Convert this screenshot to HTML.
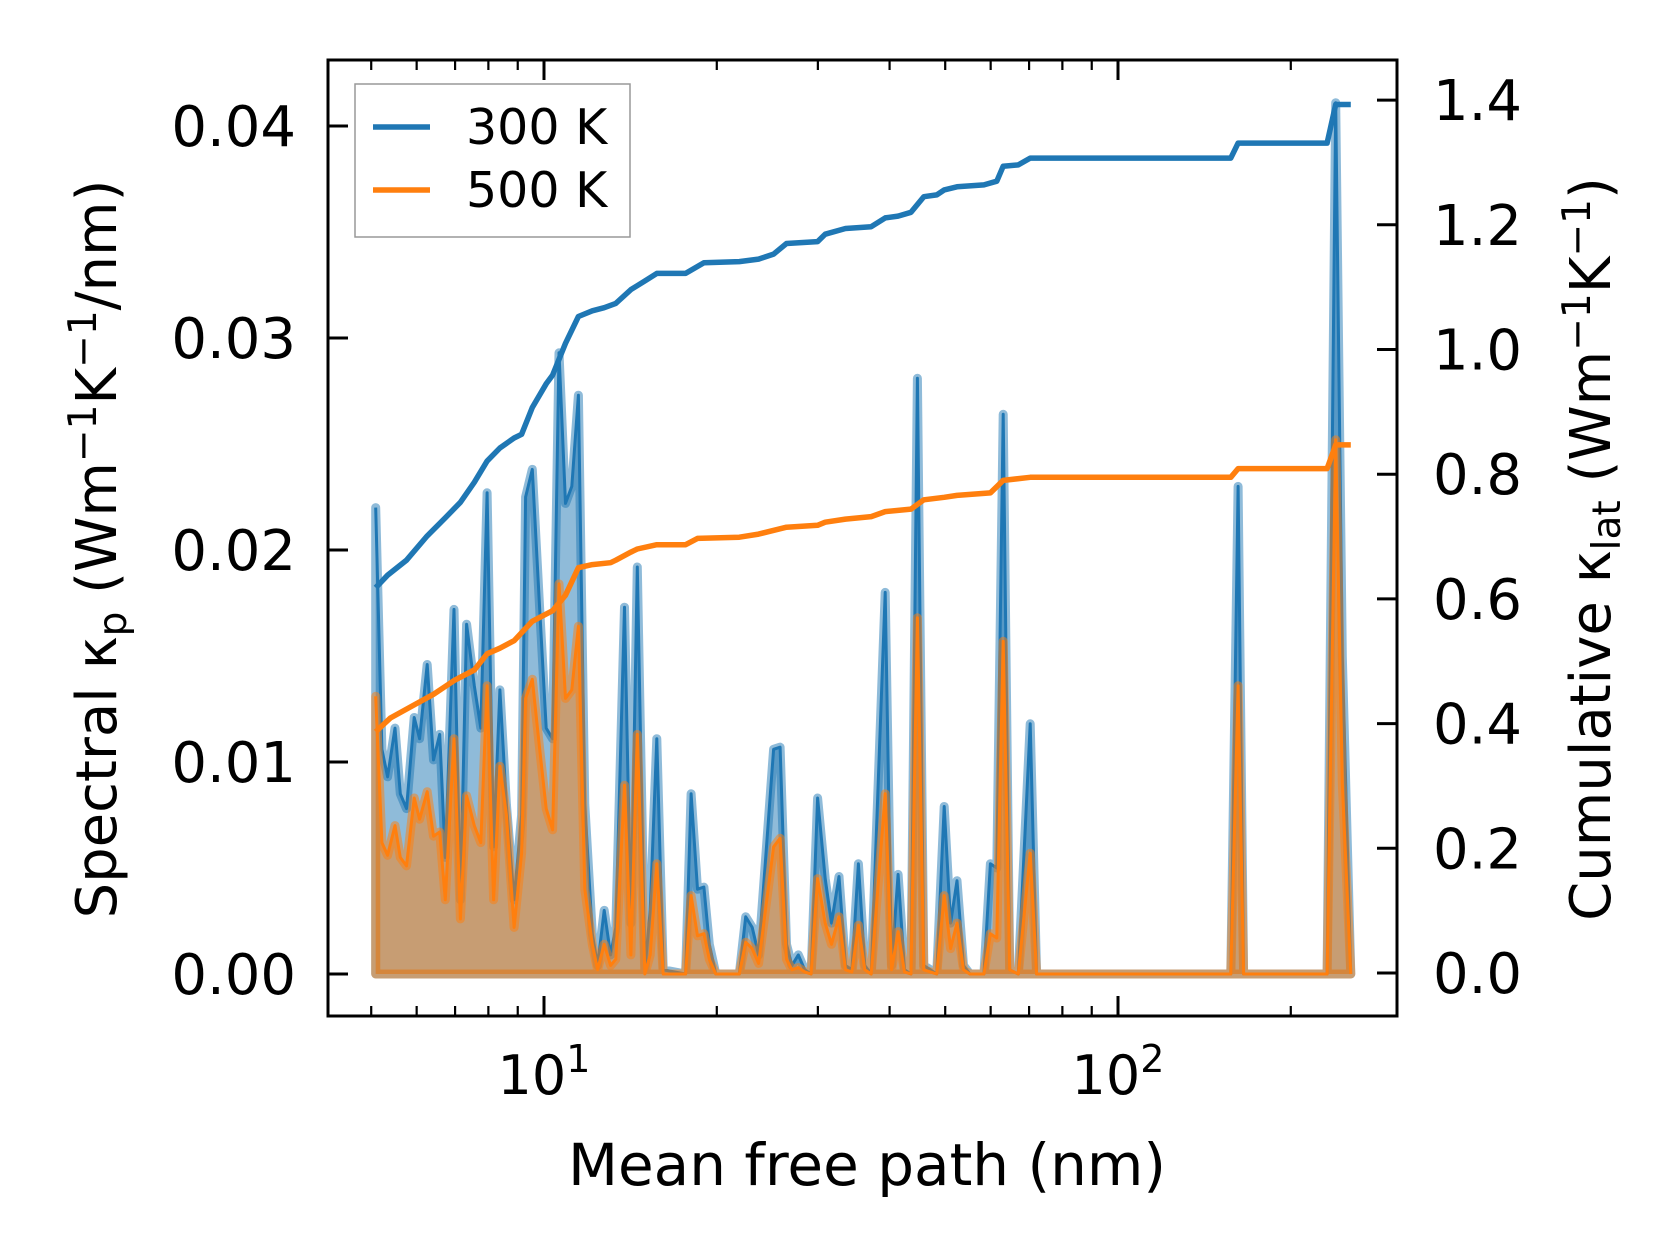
<!DOCTYPE html>
<html><head><meta charset="utf-8"><style>
html,body{margin:0;padding:0;background:#fff}
svg{display:block;font-family:"DejaVu Sans","Liberation Sans",sans-serif}
</style></head><body>
<svg id="chart" width="1679" height="1254" viewBox="0 0 1679 1254" xmlns="http://www.w3.org/2000/svg">
<g id="plot"></g>
<g id="axes"></g>
<text x="867" y="1185" font-size="58" text-anchor="middle">Mean free path (nm)</text>
<text transform="translate(116,549) rotate(-90)" font-size="56" text-anchor="middle">Spectral κ<tspan font-size="39" dy="10">p</tspan><tspan dy="-10"> (Wm</tspan><tspan font-size="39" dy="-20">−1</tspan><tspan dy="20">K</tspan><tspan font-size="39" dy="-20">−1</tspan><tspan dy="20">/nm)</tspan></text>
<text transform="translate(1610,549) rotate(-90)" font-size="56" text-anchor="middle">Cumulative κ<tspan font-size="39" dy="10">lat</tspan><tspan dy="-10"> (Wm</tspan><tspan font-size="39" dy="-20">−1</tspan><tspan dy="20">K</tspan><tspan font-size="39" dy="-20">−1</tspan><tspan dy="20">)</tspan></text>
<g>
<rect x="355" y="84" width="275" height="153" fill="#fff" fill-opacity="0.8" stroke="#999" stroke-width="1.5"/>
<line x1="373" y1="127" x2="430" y2="127" stroke="#1f77b4" stroke-width="5.5"/>
<text x="466" y="144" font-size="49">300 K</text>
<line x1="373" y1="190" x2="430" y2="190" stroke="#ff7f0e" stroke-width="5.5"/>
<text x="466" y="207" font-size="49">500 K</text>
</g>
</svg>
<script>
const mfp = [5.09,5.22,5.34,5.50,5.62,5.76,5.94,6.07,6.26,6.42,6.58,6.73,6.97,7.15,7.33,7.56,7.76,7.96,8.17,8.38,8.60,8.87,9.14,9.29,9.54,9.83,10.09,10.35,10.62,10.90,11.18,11.48,11.78,12.14,12.40,12.73,13.06,13.34,13.81,14.17,14.54,14.99,15.31,15.72,16.13,17.65,18.04,18.51,18.99,19.41,19.92,21.89,22.46,23.05,23.65,25.12,25.78,26.45,27.03,27.73,28.46,29.20,29.97,30.89,31.69,32.66,33.51,34.39,35.29,36.22,37.16,39.30,40.33,41.39,42.46,43.58,44.72,45.89,47.09,48.32,49.79,51.09,52.43,53.80,55.21,58.39,59.93,61.49,63.10,64.75,67.04,70.30,72.14,157.2,161.9,165.5,231.4,239.5,245.9,254.4];
const spec300 = [0.0220,0.0106,0.0093,0.0116,0.0085,0.0078,0.0121,0.0111,0.0146,0.0101,0.0113,0.0055,0.0172,0.0035,0.0165,0.0136,0.0116,0.0227,0.0060,0.0134,0.0080,0.0035,0.0075,0.0225,0.0238,0.0172,0.0116,0.0111,0.0293,0.0222,0.0230,0.0273,0.0080,0.0019,0.0004,0.0030,0.0009,0.0022,0.0173,0.0024,0.0192,0.0002,0.0030,0.0111,0.0002,0.0,0.0085,0.0040,0.0041,0.0014,0.0,0.0,0.0027,0.0022,0.0009,0.0106,0.0107,0.0014,0.0004,0.0009,0.0002,0.0,0.0083,0.0045,0.0024,0.0046,0.0004,0.0002,0.0052,0.0004,0.0,0.0180,0.0004,0.0047,0.0002,0.0,0.0281,0.0004,0.0002,0.0,0.0079,0.0024,0.0044,0.0004,0.0,0.0,0.0052,0.0050,0.0264,0.0002,0.0,0.0118,0.0,0.0,0.0230,0.0,0.0,0.0411,0.0150,0.0];
const spec500 = [0.0131,0.0062,0.0056,0.0070,0.0055,0.0051,0.0083,0.0073,0.0086,0.0065,0.0067,0.0035,0.0111,0.0026,0.0084,0.0070,0.0062,0.0136,0.0035,0.0098,0.0075,0.0022,0.0057,0.0130,0.0139,0.0106,0.0078,0.0068,0.0184,0.0130,0.0134,0.0164,0.0040,0.0014,0.0002,0.0014,0.0004,0.0007,0.0089,0.0009,0.0113,0.0,0.0009,0.0052,0.0,0.0,0.0037,0.0018,0.0019,0.0007,0.0,0.0,0.0015,0.0012,0.0005,0.0060,0.0064,0.0007,0.0002,0.0003,0.0001,0.0,0.0045,0.0024,0.0014,0.0027,0.0002,0.0001,0.0023,0.0002,0.0,0.0085,0.0002,0.0020,0.0001,0.0,0.0168,0.0002,0.0001,0.0,0.0037,0.0012,0.0024,0.0002,0.0,0.0,0.0019,0.0017,0.0157,0.0002,0.0,0.0057,0.0,0.0,0.0136,0.0,0.0,0.0252,0.0090,0.0];
const cumMfp300 = [5.09,5.34,5.76,6.26,6.73,7.15,7.56,7.96,8.38,8.87,9.14,9.54,10.09,10.35,10.90,11.48,12.14,12.73,13.34,14.17,14.99,15.72,17.65,18.99,21.89,23.65,25.12,26.45,29.97,30.89,33.51,37.16,39.30,41.39,43.58,45.89,48.32,49.79,52.43,58.39,61.49,63.10,67.04,70.30,157.2,161.9,231.4,239.5,254.4];
const cum300 = [0.618,0.638,0.662,0.701,0.730,0.755,0.787,0.821,0.842,0.858,0.864,0.907,0.945,0.959,1.010,1.053,1.062,1.067,1.074,1.096,1.110,1.122,1.122,1.139,1.141,1.145,1.153,1.170,1.173,1.185,1.194,1.197,1.211,1.214,1.220,1.245,1.248,1.256,1.261,1.264,1.270,1.294,1.296,1.307,1.307,1.331,1.331,1.393,1.393];
const cumMfp500 = [5.09,5.40,5.94,6.42,6.97,7.56,7.96,8.38,8.87,9.54,10.35,10.90,11.48,12.14,13.06,13.34,14.17,14.54,15.72,17.65,18.51,21.89,23.65,26.45,29.97,30.89,33.51,37.16,39.30,43.58,45.89,49.79,52.43,59.93,63.10,70.30,157.2,161.9,231.4,239.5,254.4];
const cum500 = [0.387,0.409,0.430,0.447,0.469,0.486,0.512,0.521,0.533,0.564,0.581,0.606,0.650,0.655,0.658,0.662,0.675,0.680,0.687,0.687,0.697,0.699,0.704,0.715,0.718,0.723,0.728,0.732,0.740,0.744,0.759,0.763,0.766,0.770,0.790,0.795,0.795,0.809,0.809,0.847,0.847];
const yTicksLeft = [0,0.01,0.02,0.03,0.04];
const yTickLabelsLeft = ["0.00","0.01","0.02","0.03","0.04"];
const yTicksRight = [0,0.2,0.4,0.6,0.8,1.0,1.2,1.4];
const yTickLabelsRight = ["0.0","0.2","0.4","0.6","0.8","1.0","1.2","1.4"];
const xMajor = [10,100];
const xMinor = [5,6,7,8,9,20,30,40,50,60,70,80,90,200];

const NS="http://www.w3.org/2000/svg";
const L=328,R=1397,T=60,B=1016;
const X=m=>544+(Math.log10(m)-1)*574;
const YL=v=>974-v/0.01*212;
const YR=c=>973-c/0.2*124.7;
function mk(tag,attrs,parent){const e=document.createElementNS(NS,tag);for(const k in attrs)e.setAttribute(k,attrs[k]);parent.appendChild(e);return e;}
const plot=document.getElementById('plot'), axes=document.getElementById('axes');

function drawSpec(vals,color,name){
  let pts=mfp.map((m,i)=>X(m).toFixed(1)+','+YL(vals[i]).toFixed(1));
  let top='M'+pts.join(' L');
  let area=top+' L'+X(mfp[mfp.length-1]).toFixed(1)+','+YL(0)+' L'+X(mfp[0]).toFixed(1)+','+YL(0)+' Z';
  const f=mk('path',{d:area,fill:color,'fill-opacity':0.5,stroke:color,'stroke-opacity':0.5,'stroke-width':9,'stroke-linejoin':'round'},plot);
  
  
  const l=mk('path',{d:top,fill:'none',stroke:color,'stroke-width':3,'stroke-linejoin':'round'},plot);
  
  
}
drawSpec(spec300,'#1f77b4','spectral-300k');
drawSpec(spec500,'#ff7f0e','spectral-500k');

function drawCum(xs,vals,color,name){
  const d='M'+xs.map((m,i)=>X(m).toFixed(1)+','+YR(vals[i]).toFixed(1)).join(' L');
  const l=mk('path',{d:d,fill:'none',stroke:color,'stroke-width':5.5,'stroke-linejoin':'round'},plot);
  
  
}
drawCum(cumMfp300,cum300,'#1f77b4','cumulative-300k');
drawCum(cumMfp500,cum500,'#ff7f0e','cumulative-500k');

const box=mk('rect',{x:L,y:T,width:R-L,height:B-T,fill:'none',stroke:'#000','stroke-width':3},axes);



yTicksLeft.forEach((v,i)=>{
  const y=YL(v);
  const t=mk('line',{x1:L,x2:L+20,y1:y,y2:y,stroke:'#000','stroke-width':3},axes);
  
  
  const tx=mk('text',{x:296,y:y+20,'font-size':56,'text-anchor':'end'},axes);
  tx.textContent=yTickLabelsLeft[i];
  
  
});
yTicksRight.forEach((v,i)=>{
  const y=YR(v);
  const t=mk('line',{x1:R-20,x2:R,y1:y,y2:y,stroke:'#000','stroke-width':3},axes);
  
  
  const tx=mk('text',{x:1433,y:y+20,'font-size':56,'text-anchor':'start'},axes);
  tx.textContent=yTickLabelsRight[i];
  
  
});
xMajor.forEach((m,i)=>{
  const x=X(m);
  const t1=mk('line',{x1:x,x2:x,y1:B,y2:B-20,stroke:'#000','stroke-width':3},axes);
  
  
  const t2=mk('line',{x1:x,x2:x,y1:T,y2:T+20,stroke:'#000','stroke-width':3},axes);
  
  
  const tx=mk('text',{x:x,y:1094,'font-size':54,'text-anchor':'middle'},axes);
  tx.textContent='10';
  const sp=mk('tspan',{'font-size':38,dy:-22},tx);
  sp.textContent=String(i+1);
  
  
});
xMinor.forEach(m=>{
  const x=X(m);
  const t1=mk('line',{x1:x,x2:x,y1:B,y2:B-10,stroke:'#000','stroke-width':2.2},axes);
  
  
  const t2=mk('line',{x1:x,x2:x,y1:T,y2:T+10,stroke:'#000','stroke-width':2.2},axes);
  
  
});
</script>
</body></html>
